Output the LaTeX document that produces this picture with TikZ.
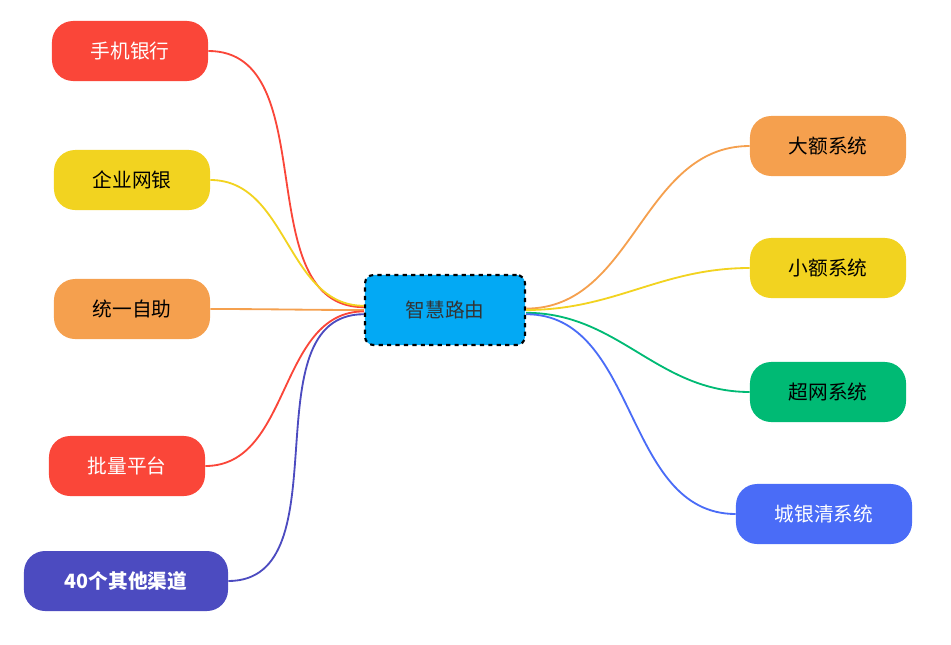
\documentclass[tikz,border=0pt]{standalone}
\usepackage{fontspec}
\setmainfont{Noto Sans CJK SC}
\definecolor{cred}{HTML}{FA4639}
\definecolor{cyellow}{HTML}{F2D320}
\definecolor{corange}{HTML}{F5A04E}
\definecolor{cpurple}{HTML}{4C4BC0}
\definecolor{cgreen}{HTML}{00BA74}
\definecolor{cblue}{HTML}{4A6CF7}
\definecolor{ccenter}{HTML}{03A9F4}
\tikzset{
  leaf/.style={rounded corners=15pt, minimum height=1.5cm, minimum width=3.9cm, font=\fontsize{14}{16}\selectfont},
  link/.style={line width=1.3pt}
}
\begin{document}
\begin{tikzpicture}[x=0.025cm,y=-0.025cm]

\useasboundingbox (0,0) rectangle (951,644);

\node[fill=ccenter, draw=black, dashed, line width=1.5pt, rounded corners=6pt, minimum width=4cm, minimum height=1.75cm, font=\fontsize{14}{16}\selectfont, text=black!80] (route) at (445,310) {智慧路由};

\node[leaf, fill=cred, text=white] (mobile) at (130,51) {手机银行};
\node[leaf, fill=cyellow] (corp) at (132,180) {企业网银};
\node[leaf, fill=corange] (self) at (132,309) {统一自助};
\node[leaf, fill=cred, text=white] (batch) at (127,466) {批量平台};
\node[leaf, fill=cpurple, text=white, minimum width=5.1cm, font=\fontsize{14}{16}\selectfont\bfseries] (other) at (126,581) {40个其他渠道};

\node[leaf, fill=corange] (large) at (828,146) {大额系统};
\node[leaf, fill=cyellow] (small) at (828,268) {小额系统};
\node[leaf, fill=cgreen] (super) at (828,392) {超网系统};
\node[leaf, fill=cblue, text=white, minimum width=4.4cm] (city) at (824,514) {城银清系统};

\begin{scope}[on background layer/.style={}]
\draw[link, cred] ([yshift=2pt]route.west) to[out=180,in=0] (mobile.east);
\draw[link, cyellow] ([yshift=3pt]route.west) to[out=180,in=0] (corp.east);
\draw[link, corange] (route.west) to[out=180,in=0] (self.east);
\draw[link, cred] ([yshift=-1pt]route.west) to[out=180,in=0] (batch.east);
\draw[link, cpurple] ([yshift=-3pt]route.west) to[out=180,in=0] (other.east);
\draw[link, corange] ([yshift=1pt]route.east) to[out=0,in=180] (large.west);
\draw[link, cyellow] (route.east) to[out=0,in=180] (small.west);
\draw[link, cgreen] ([yshift=-2pt]route.east) to[out=0,in=180] (super.west);
\draw[link, cblue] ([yshift=-3pt]route.east) to[out=0,in=180] (city.west);
\end{scope}

\end{tikzpicture}
\end{document}
